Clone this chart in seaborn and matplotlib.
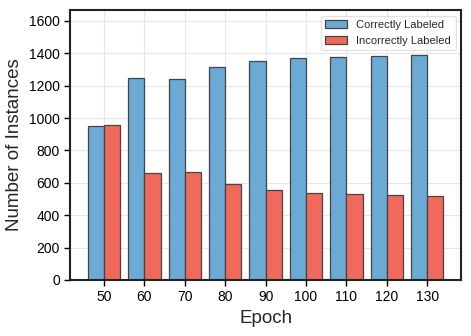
import matplotlib
matplotlib.use("Agg")
import matplotlib.pyplot as plt
import seaborn as sns
import pandas as pd

epochs = [50, 60, 70, 80, 90, 100, 110, 120, 130]
correct = [951, 1247, 1239, 1315, 1354, 1372, 1377, 1383, 1389]
incorrect = [957, 662, 669, 595, 553, 537, 533, 525, 519]
series = ["Correctly Labeled", "Incorrectly Labeled"]
colors = ["#6aaad4", "#f0695b"]

df = pd.DataFrame({
    "Epoch": epochs * 2,
    "Count": correct + incorrect,
    "Type": [series[0]] * len(epochs) + [series[1]] * len(epochs),
})

sns.set_style("whitegrid")
plt.rcParams["font.family"] = ["Liberation Sans", "DejaVu Sans"]

fig = plt.figure(figsize=(4.71, 3.36), dpi=100)
ax = fig.add_axes([0.149, 0.167, 0.830, 0.803])

sns.barplot(data=df, x="Epoch", y="Count", hue="Type", palette=colors,
            native_scale=True, width=0.8, dodge=True, ax=ax,
            edgecolor="#444444", linewidth=0.9, saturation=1)

ax.set_xlim(41.6, 138.4)
ax.set_xticks(epochs)
ax.set_xticklabels([str(e) for e in epochs])
ax.set_ylim(0, max(correct) * 1.2)
ax.set_yticks(range(0, 1601, 200))

ax.set_xlabel("Epoch", fontsize=13.5)
ax.set_ylabel("Number of Instances", fontsize=13.5)
ax.tick_params(axis="both", labelsize=10, length=4, width=1, color="black",
               labelcolor="black", direction="out", left=True, bottom=True)
ax.grid(True, color="#e6e6e6", linewidth=0.8)
ax.set_axisbelow(True)
for s in ax.spines.values():
    s.set_color("#222222")
    s.set_linewidth(1.5)

leg = ax.legend(loc="upper right", fontsize=8, frameon=True, title=None)
leg.get_frame().set_edgecolor("#dddddd")

fig.savefig("out.png", dpi=100)
